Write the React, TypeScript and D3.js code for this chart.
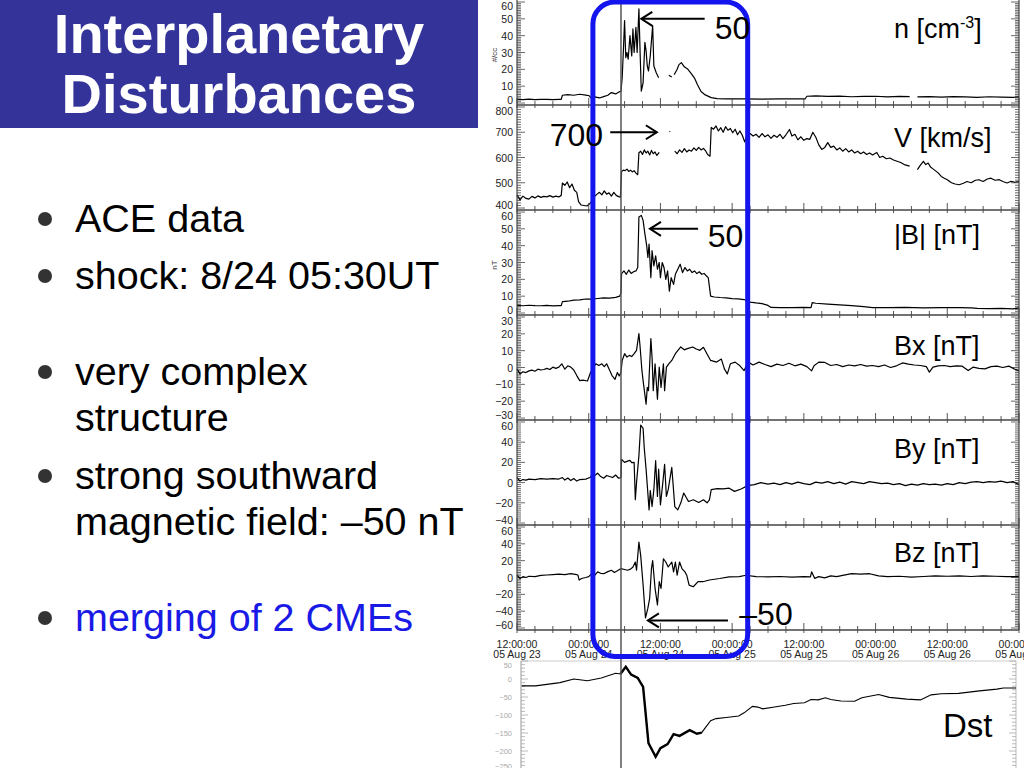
import React from "react";
import * as d3 from "d3";

// ---------- DATA (hours after 2005-08-23 12:00 UT, value) ----------
const START = Date.UTC(2005, 7, 23, 12);
const END = Date.UTC(2005, 7, 27, 0);
const SHOCK_HOUR = 17.4;

const density: [number, number][] = [
  [0,2.2],[1,2.0],[2,2.3],[3,2.0],[4,2.1],[5,2.2],[6,2.0],[7,2.2],[7.4,2.2],[7.6,4.6],[8.5,5.0],[9.5,4.6],[10.5,5.2],[11.5,4.7],[12.1,4.3],[12.3,3.2],[13,3.6],[13.8,3.0],[14.5,3.8],[15.2,4.6],[15.8,6.2],[16.5,5.4],[17.2,6.8],[17.4,7],
  [17.6,15],[17.8,31],[18.0,49],[18.2,27],[18.4,30],[18.6,26],[18.9,40],[19.2,28],[19.4,44],[19.6,30],[19.9,45],[20.1,30],[20.4,56],[20.6,30],[20.8,7],[21.1,12],[21.4,36],[21.6,31],[21.8,22],[22.0,19],[22.3,28],[22.7,46],[22.9,22],[23.3,18],[23.7,15],[24.0,NaN],
  [25.4,16.5],[25.9,15.5],[26.1,NaN],[26.3,16.8],[26.8,20],[27.1,22.8],[27.5,24],[28.0,21.5],[28.6,20],[29.1,17.8],[29.7,14.8],[30.2,10.8],[30.8,6.8],[31.5,4.8],[32.5,3.2],[33.5,2.6],[35,2.4],[38,2.4],[41,2.3],[44,2.4],[48.2,2.4],
  [48.5,4.0],[50,4.2],[52,3.9],[54,4.1],[56,3.7],[58,3.9],[60,4.0],[62,3.6],[64,3.9],[65.7,3.8],[66.3,NaN],[67,3.6],[69,3.8],[71,3.5],[73,3.8],[75,3.6],[77,3.4],[79,3.7],[81,3.5],[83,3.4],[84,3.6],
];

const speed: [number, number][] = [
  [0,452],[0.5,432],[1,447],[1.5,438],[2,435],[2.5,446],[3,440],[3.5,448],[4,442],[4.5,446],[5,444],[5.5,449],[6,443],[6.5,447],[7,444],[7.4,450],[7.6,499],[8,490],[8.4,503],[8.8,480],[9.2,495],[9.6,470],[10,462],[10.3,425],[10.7,412],[11.2,410],[11.7,408],[12.2,418],[12.6,428],[13,446],[13.4,455],[13.8,462],[14.2,452],[14.6,468],[15,455],[15.4,460],[15.8,447],[16.2,462],[16.6,450],[17,445],[17.3,443],
  [17.5,545],[17.8,550],[18.1,548],[18.4,554],[18.7,545],[19.0,550],[19.3,543],[19.6,548],[19.9,538],[20.2,532],[20.4,619],[20.7,625],[21.0,612],[21.3,630],[21.6,618],[21.9,625],[22.2,610],[22.5,628],[22.8,615],[23.1,622],[23.4,608],[23.8,620],[24.0,NaN],
  [25.5,703],[25.65,703],[25.8,NaN],
  [26.4,625],[26.8,615],[27.2,630],[27.6,620],[28,635],[28.4,622],[28.8,630],[29.2,625],[29.6,638],[30,628],[30.4,640],[30.8,630],[31.2,636],[31.6,625],[31.9,612],[32.3,605],[32.5,719],[32.9,712],[33.3,725],[33.7,705],[34.1,718],[34.5,700],[34.9,722],[35.3,708],[35.7,715],[36.1,698],[36.5,712],[36.9,690],[37.3,705],[37.7,688],[38.1,662],[38.5,690],[39,695],[39.5,685],[40,692],[40.5,680],[41,695],[41.5,682],[42,690],[42.5,676],[43,688],[43.5,680],[44,692],[44.5,675],[45,690],[45.6,711],[46,685],[46.5,692],[47,670],[47.5,682],[48,668],[48.5,675],[49,672],[49.5,700],[50,680],[50.5,650],[51,632],[51.5,640],[52,659],[52.5,640],[53,645],[53.5,630],[54,638],[54.5,625],[55,635],[55.5,622],[56,630],[56.5,618],[57,625],[57.5,615],[58,622],[58.5,612],[59,618],[59.5,610],[60.2,620],[60.7,600],[61.2,605],[61.8,595],[62.4,598],[63,590],[63.6,585],[64.2,580],[64.8,572],[65.4,568],[65.7,566],[66.3,NaN],
  [67,552],[67.5,570],[68,585],[68.4,572],[68.8,578],[69.2,562],[69.6,555],[70,548],[70.5,538],[71,525],[71.5,518],[72,512],[72.7,500],[73.3,495],[74,492],[74.7,498],[75.3,505],[76,500],[76.7,510],[77.3,512],[78,505],[78.7,515],[79.3,518],[80,510],[80.7,512],[81.3,505],[82,499],[82.7,506],[83.3,502],[84,505],
];

const bMag: [number, number][] = [
  [0,4.5],[1,4.3],[2,4.6],[3,4.4],[4,4.3],[5,4.5],[6,4.2],[7,4.4],[7.4,4.4],[7.6,6.8],[8.5,7.0],[9.5,7.6],[10.5,7.8],[11.5,8.3],[12.5,8.2],[13.5,8.6],[14.5,9.0],[15.5,8.8],[16.5,9.3],[17.2,10],[17.4,12],
  [17.5,23.4],[17.9,25],[18.3,23],[18.7,25.5],[19.1,23.5],[19.5,24.5],[19.9,25],[20.2,27],[20.4,57],[20.8,58],[21.1,55],[21.4,47],[21.7,40],[21.9,33],[22.1,41],[22.4,21],[22.6,37],[22.9,28],[23.2,34],[23.5,26],[23.8,30],[24.0,21],[24.3,30],[24.6,27],[24.9,20],[25.2,25],[25.5,13],[25.8,21],[26.2,17],[26.5,23],[26.9,26],[27.3,29],[27.7,24],[28.1,27],[28.5,25],[28.9,26],[29.3,24],[29.7,25],[30.1,23.4],[30.5,24.5],[30.9,23],[31.3,23.5],[31.7,22],[32.0,21],
  [32.4,10],[33,9.5],[34,9.2],[35,9.0],[36,8.5],[37,8.4],[38,8.0],[39,6.5],[40,6.0],[41,5.6],[42,4.5],[42.5,3.3],[44,3.2],[46,3.2],[48,3.3],[49.2,3.2],[49.4,6.2],[50,5.8],[52,5.3],[54,4.8],[56,4.4],[58,3.8],[59.5,3.2],[62,3.2],[65,3.3],[68,3.1],[71,3.2],[74,3.2],[76,3.1],[77,2.8],[79,2.6],[81,2.7],[83,2.4],[84,3.0],
];

const bx: [number, number][] = [
  [0,-0.8],[0.5,-3.8],[1,-2.5],[1.5,-3],[2,-2],[2.5,-1.6],[3,-2.2],[3.5,-1],[4,-1.5],[4.5,-1.2],[5,-0.5],[5.5,-1.2],[6,0.2],[6.5,-0.5],[7,0.2],[7.5,2.2],[8,-1],[8.5,1],[9,0.2],[9.5,-1.5],[10,-4.8],[10.5,-7.8],[11,-7.5],[11.8,-8],[12.3,-3],[12.8,0.2],[13.2,2.2],[13.7,1.2],[14.2,2.2],[14.6,0.5],[15,2.2],[15.5,-1.6],[15.9,-4.8],[16.4,-7],[16.8,-3],[17.1,-5],[17.4,-2.8],
  [17.6,4.2],[18,8.2],[18.4,6.2],[18.8,7.2],[19.2,6.5],[19.6,8.2],[20,10.2],[20.4,20.2],[20.6,12.2],[20.9,-1.6],[21.1,-7.8],[21.6,-21.8],[21.8,-11.8],[22.0,-13.8],[22.4,17.2],[22.6,6],[22.8,-13.8],[23.1,2.2],[23.5,-18.8],[23.8,0.2],[24.1,-11.8],[24.5,2.2],[24.7,-13.8],[25.0,0.2],[25.4,2.2],[25.9,4.2],[26.5,8.2],[27.4,12.2],[28,10.5],[28.5,11.2],[29.4,12.2],[30,11],[30.6,10.2],[31.2,12],[31.8,8],[32.4,4.2],
  [33.4,3.2],[34.2,5],[34.7,-0.8],[35.2,-3.8],[35.7,2.2],[36.5,3.2],[37.3,1],[38,-1.8],[38.7,3.2],[39.5,1.5],[40.5,3.2],[41.5,1.8],[42.5,0.5],[43.5,2],[44.5,1.2],[45.5,2.5],[46.5,1],[47.5,2],[48.5,0.5],[49.3,-2],[49.7,1],[50.5,3.2],[51.5,3],[52.5,1.2],[53.5,1.8],[54.5,0.5],[55.5,1.5],[56.5,1],[57.5,1.8],[58.5,0.8],[59.5,1.2],[60.5,0.5],[61.5,1.5],[62.5,0],[63.5,1],[64.5,2.7],[65.5,2],[66.5,1.5],[67.5,1.2],[68.5,0.5],[69,-2.8],[69.6,0.2],[70.5,1],[71.5,1.2],[72.5,0.5],[73.5,1],[74.5,0.8],[75.5,-1.8],[76.3,0.2],[77.3,-0.5],[78.3,-0.8],[79.3,0.5],[80.3,0.8],[81.3,0],[82.3,0.8],[83.3,-1],[84,-2],
];

const by: [number, number][] = [
  [0,5],[0.5,1.5],[1,3],[1.5,2.5],[2,3.5],[3,3],[4,4],[5,3.5],[6,4],[7,3.5],[7.6,5],[8,2.5],[8.5,4.5],[9,2],[9.5,4],[10,1.5],[10.5,3],[11.5,3.5],[12.2,5],[12.6,8],[13,7],[13.5,9.3],[14,6],[14.5,4.3],[15,7],[15.5,6],[16,5],[16.5,7.5],[17,4.3],[17.4,5],
  [17.5,23],[18,20],[18.5,21.3],[18.9,22],[19.2,19.7],[19.6,20],[19.8,-17],[20.0,0],[20.4,26.7],[20.7,57],[21.1,53.7],[21.3,33.7],[21.6,13.3],[22.1,-27],[22.3,-8],[22.6,-23.7],[22.9,-7],[23.2,21.7],[23.5,-13.7],[23.7,13.3],[24.0,-22],[24.4,0],[24.7,18],[25.0,-13.7],[25.3,-7],[25.9,15],[26.1,0],[26.4,-23.7],[26.9,-27],[27.4,-20.3],[27.9,-10.3],[28.7,-18.7],[29.5,-17],[30.4,-19.7],[31.2,-17],[31.8,-20],[32.2,-17],
  [32.5,-7],[33.5,-6],[34.5,-6.3],[35.5,-5.5],[36.4,-8.7],[37.5,-6.3],[38.6,-3],[39.7,-2],[40.8,0],[42,-1.5],[43,-0.5],[44,-2],[45,0],[46,-1.5],[47,0.5],[48,-1],[49,-2],[50,0.5],[51,-0.5],[52,1],[53,-1],[54,0.5],[55,-1.5],[56,1],[57,0],[58,-1],[59,1],[60,0],[61,-1],[62,-0.5],[63,-2],[64,-1],[65,-3],[66,-1.5],[67,-2.5],[68,-1],[69,-2],[70,-1.5],[71,-2.5],[72,-1],[73,-2],[74,0],[75,-1],[76,0.5],[77,1],[78,0],[79,1],[80,0.5],[81,1.5],[82,0],[83,1],[84,-2],
];

const bz: [number, number][] = [
  [0,2.7],[0.5,-1.2],[1,1],[1.5,0],[2,1.5],[3,1],[4,2.5],[5,3],[6,3.5],[7,4],[8,3.5],[9,4.5],[10,3.5],[10.2,2.7],[10.4,-3.1],[10.8,-1.2],[11.5,0],[12,1],[12.5,4.5],[13,2.7],[13.5,6.7],[14,5],[14.6,4.7],[15.2,7],[15.8,8.6],[16.3,6],[16.8,8],[17.4,10.6],
  [18,9.5],[18.5,8.6],[19,10],[19.4,12.5],[19.8,18.4],[20.0,8.6],[20.4,42],[20.7,26],[21.1,-9],[21.5,-48],[21.9,-36.5],[22.2,-24.7],[22.5,10.6],[22.7,20],[23.1,-13],[23.5,-32.6],[23.8,-5],[24.1,-13],[24.5,22.3],[24.9,18.4],[25.3,12.5],[25.9,18.4],[26.2,6.7],[26.5,18.4],[26.8,2.7],[27.2,18.4],[27.6,10.6],[28.1,6.7],[28.4,2.7],[28.8,-9],[29.5,-11],[30.3,-5],[31.1,-5],[32.2,-3],
  [33.9,-1.2],[35.5,0.8],[37.2,1],[38.3,2.7],[40,1],[42,0.8],[44,1.2],[46,0.5],[48,1],[49.1,0.8],[49.3,6.7],[49.8,-1],[50.5,1],[51.5,-0.5],[52.5,2],[53.5,1],[54.5,2.5],[56,4.7],[57.5,4],[59,4.5],[60.5,2],[62,1],[64,1.5],[66,0.5],[68,1.2],[70,2],[72,1.5],[74,2],[76,1.2],[78,2],[80,1.5],[82,1],[84,1],
];

const dst: [number, number][] = [
  [0.8,-19],[3.1,-19],[7.2,-10],[9.5,0],[11.8,-5],[14.1,3],[16.5,16],[17.3,14],[18.2,34],[19.1,12],[20.2,3],[21.1,-22],[22,-178],[23.2,-216],[24,-192],[25.2,-181],[26.2,-153],[27.2,-158],[28.9,-142],[30.1,-152],[30.9,-149],[32.4,-116],[33.3,-110],[35,-107],[37.1,-103],[38,-94],[39.4,-76],[40.3,-78],[41.1,-83],[43.1,-78],[44.9,-73],[46.3,-68],[48.1,-66],[49.2,-57],[50.4,-58],[51.6,-52],[52.5,-57],[54.2,-61],[56.5,-62],[57.7,-52],[60.5,-43],[62.3,-51],[65.2,-56],[67.5,-58],[69.3,-44],[71,-41],[73.9,-40],[77.4,-33],[80.3,-28],[81.4,-25],[83.5,-25],
];

const titleLines = ["Interplanetary", "Disturbances"];
const bulletItems = [
  { lines: ["ACE data"], color: "#000" },
  { lines: ["shock: 8/24 05:30UT"], color: "#000" },
  { lines: ["very complex", "structure"], color: "#000" },
  { lines: ["strong southward", "magnetic field: \u201350 nT"], color: "#000" },
  { lines: ["merging of 2 CMEs"], color: "#1a1ae6" },
];

// ---------- LAYOUT ----------
const W = 1024, H = 768;
const X0 = 517, X1 = 1019;
const PANEL_H = 105;
const FONT = "'Liberation Sans', Arial, Helvetica, sans-serif";
const BLUE = "#1414ee";

const panelSpecs = [
  { data: density, domain: [0, 60], major: 10, minor: 1, labelDy: 38, unit: "#/cc" },
  { data: speed, domain: [400, 800], major: 100, minor: 10, labelDy: 42, unit: "" },
  { data: bMag, domain: [0, 60], major: 10, minor: 1, labelDy: 34, unit: "nT" },
  { data: bx, domain: [-30, 30], major: 10, minor: 1, labelDy: 40, unit: "" },
  { data: by, domain: [-40, 60], major: 20, minor: 2, labelDy: 38, unit: "" },
  { data: bz, domain: [-60, 60], major: 20, minor: 2, labelDy: 37, unit: "" },
];
const panelLabels = ["n", "V [km/s]", "|B| [nT]", "Bx [nT]", "By [nT]", "Bz [nT]"];

const bulletBaselines = [[232], [289], [385, 431], [489, 535], [631]];

const annotations = [
  { panel: 0, tipHour: 20.8, tailHour: 31.4, value: 50, text: "50", textHour: 33.1, textDy: 20, anchor: "start", dir: -1 },
  { panel: 1, tipHour: 23.4, tailHour: 15.6, value: 700, text: "700", textHour: 14.4, textDy: 14, anchor: "end", dir: 1 },
  { panel: 2, tipHour: 22.25, tailHour: 30.3, value: 50, text: "50", textHour: 31.9, textDy: 18, anchor: "start", dir: -1 },
  { panel: 5, tipHour: 21.9, tailHour: 35.3, value: -51, text: "\u201350", textHour: 37.2, textDy: 5, anchor: "start", dir: -1 },
];

export default function App() {
  const x = d3.scaleUtc().domain([new Date(START), new Date(END)]).range([X0, X1]);
  const hx = (h: number) => x(new Date(START + h * 3600e3));

  const timeTicks = d3.utcHour.every(3)!.range(new Date(START), new Date(END + 1));
  const fmtTime = d3.utcFormat("%H:%M:%S");
  const fmtDate = d3.utcFormat("%y %b %d");
  const fmtNum = d3.format("d");

  const yScales = panelSpecs.map((p, i) =>
    d3.scaleLinear().domain(p.domain).range([i * PANEL_H + 103, i * PANEL_H + 2])
  );

  const dstY = d3.scaleLinear().domain([-250, 50]).range([769, 661]);
  const dstLine = d3.line<[number, number]>().x(d => hx(d[0])).y(d => dstY(d[1]));
  const dstStorm = dst.filter(d => d[0] >= 17.3 && d[0] <= 31);

  const boxL = hx(12.7), boxR = hx(38.6);

  return (
    <svg width={W} height={H} style={{ position: "absolute", left: 0, top: 0, background: "#fff" }} fontFamily={FONT}>
      <rect x={0} y={0} width={W} height={H} fill="#fff" />
      {/* title */}
      <rect x={0} y={0} width={478} height={128} fill="#333399" />
      {titleLines.map((t, i) => (
        <text key={t} x={239} y={53 + i * 60} textAnchor="middle" fill="#fff" fontSize={56} fontWeight="bold">{t}</text>
      ))}
      {/* bullets */}
      {bulletItems.map((b, i) => (
        <g key={i}>
          <circle cx={45} cy={bulletBaselines[i][0] - 13} r={7} fill="#333" />
          {b.lines.map((l, j) => (
            <text key={j} x={75} y={bulletBaselines[i][j]} fontSize={39.5} fill={b.color}>{l}</text>
          ))}
        </g>
      ))}

      {/* panels */}
      {panelSpecs.map((p, i) => {
        const y = yScales[i];
        const top = i * PANEL_H;
        const line = d3.line<[number, number]>().defined(d => !isNaN(d[1])).x(d => hx(d[0])).y(d => y(d[1]));
        const vals = d3.range(p.domain[0], p.domain[1] + 1e-9, p.minor);
        const majors = d3.range(p.domain[0], p.domain[1] + 1e-9, p.major);
        return (
          <g key={i}>
            {vals.map(v => {
              const isMajor = Math.abs(v % p.major) < 1e-9;
              const len = isMajor ? 8 : 4;
              return (
                <g key={v} stroke="#444" strokeWidth={0.8}>
                  <line x1={X0} x2={X0 + len} y1={y(v)} y2={y(v)} />
                  <line x1={X1} x2={X1 - len} y1={y(v)} y2={y(v)} />
                </g>
              );
            })}
            {majors.map(v => {
              const shift = v === p.domain[1] ? 4 : v === p.domain[0] ? -3 : 0;
              return (
                <text key={v} x={513} y={y(v) + 4 + shift} fontSize={10.5} textAnchor="end" fill="#222">{fmtNum(v)}</text>
              );
            })}
            {p.unit && (
              <text transform={`translate(497,${top + 55}) rotate(-90)`} fontSize={8} textAnchor="middle" fill="#333">{p.unit}</text>
            )}
            <path d={line(p.data) || ""} fill="none" stroke="#000" strokeWidth={1.2} strokeLinejoin="round" />
            <line x1={X0} x2={X0} y1={top} y2={top + PANEL_H} stroke="#444" strokeWidth={1.2} />
            <line x1={X1} x2={X1} y1={top} y2={top + PANEL_H} stroke="#444" strokeWidth={1.2} />
            <line x1={X0} x2={X1} y1={top + PANEL_H} y2={top + PANEL_H} stroke="#444" strokeWidth={1.3} />
            {timeTicks.map(t => {
              const major = t.getUTCHours() % 12 === 0;
              return (
                <line key={+t} x1={x(t)} x2={x(t)} y1={top + PANEL_H - (major ? 7 : 4)} y2={top + PANEL_H + 3} stroke="#444" strokeWidth={0.9} />
              );
            })}
            {i === 0 ? (
              <text x={894} y={top + p.labelDy} fontSize={27} fill="#000">
                n [cm<tspan dy={-10} fontSize={16}>-3</tspan><tspan dy={10}>]</tspan>
              </text>
            ) : (
              <text x={894} y={top + p.labelDy} fontSize={27} fill="#000">{panelLabels[i]}</text>
            )}
          </g>
        );
      })}

      {/* time labels */}
      {timeTicks.filter(t => t.getUTCHours() % 12 === 0).map(t => (
        <g key={+t} fontSize={10.5} fill="#222" textAnchor="middle">
          <text x={x(t)} y={647.5}>{fmtTime(t)}</text>
          <text x={x(t)} y={658}>{fmtDate(t)}</text>
        </g>
      ))}

      {/* Dst panel */}
      <g>
        <line x1={521} x2={1016} y1={661} y2={661} stroke="#ccc" strokeWidth={1} />
        <line x1={521} x2={521} y1={661} y2={768} stroke="#999" strokeWidth={1} />
        <line x1={1016} x2={1016} y1={661} y2={768} stroke="#bbb" strokeWidth={1} />
        {d3.range(-250, 51, 10).map(v => {
          const major = v % 50 === 0;
          return (
            <g key={v} stroke="#aaa" strokeWidth={0.8}>
              <line x1={521} x2={521 + (major ? 7 : 4)} y1={dstY(v)} y2={dstY(v)} />
              <line x1={1016} x2={1016 - (major ? 7 : 4)} y1={dstY(v)} y2={dstY(v)} />
            </g>
          );
        })}
        {d3.range(-250, 51, 50).map(v => {
          const shift = v === 50 ? 4 : v === -250 ? -3 : 0;
          return (
            <text key={v} x={512} y={dstY(v) + 3 + shift} fontSize={7.5} textAnchor="end" fill="#aaa">{fmtNum(v)}</text>
          );
        })}
        <path d={dstLine(dst) || ""} fill="none" stroke="#000" strokeWidth={1.1} />
        <path d={dstLine(dstStorm) || ""} fill="none" stroke="#000" strokeWidth={2.4} />
        <text x={943} y={737} fontSize={33} fill="#000">Dst</text>
      </g>

      {/* shock line */}
      <line x1={hx(SHOCK_HOUR)} x2={hx(SHOCK_HOUR)} y1={0} y2={H} stroke="#555" strokeWidth={1.5} />

      {/* blue box */}
      <rect x={boxL} y={2} width={boxR - boxL} height={654.5} rx={22} ry={22} fill="none" stroke={BLUE} strokeWidth={5} />

      {/* annotations */}
      {annotations.map((a, k) => {
        const yy = yScales[a.panel](a.value);
        const tx = hx(a.tipHour);
        const bx2 = hx(a.tailHour);
        const d = a.dir;
        return (
          <g key={k}>
            <line x1={bx2} x2={tx} y1={yy} y2={yy} stroke="#000" strokeWidth={2} />
            <path d={`M${tx - d * 11},${yy - 7}L${tx},${yy}L${tx - d * 11},${yy + 7}`} fill="none" stroke="#000" strokeWidth={2} />
            <text x={hx(a.textHour)} y={yy + a.textDy} fontSize={32} textAnchor={a.anchor} fill="#000">{a.text}</text>
          </g>
        );
      })}
    </svg>
  );
}
